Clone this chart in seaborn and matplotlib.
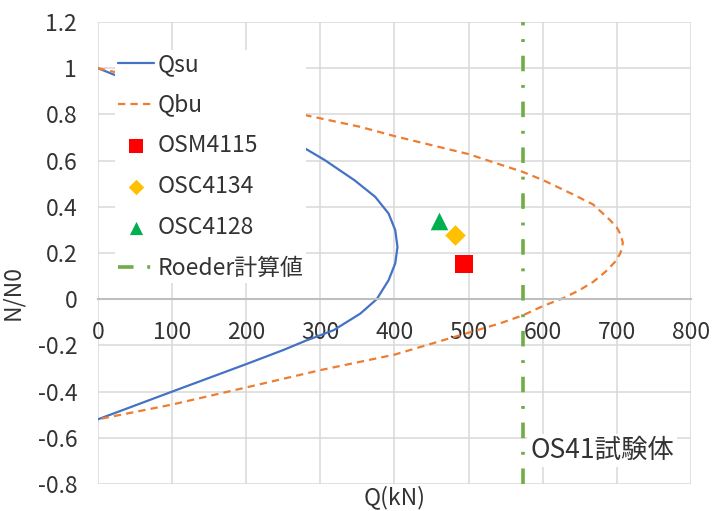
import matplotlib
matplotlib.use("Agg")
import matplotlib.pyplot as plt
import seaborn as sns

# Qsu curve (kN, N/N0), traced from top to bottom
q_su = [0, 20, 100, 200, 276, 306, 346, 374, 392, 401, 404, 401, 392, 376,
        354, 318, 300, 280, 250, 200, 100, 0]
n_su = [1.0, 0.974, 0.875, 0.755, 0.659, 0.602, 0.515, 0.443, 0.371, 0.299, 0.226,
        0.155, 0.082, 0.0, -0.062, -0.134, -0.156, -0.18, -0.22, -0.281, -0.40, -0.52]

# Qbu curve
q_bu = [0, 16, 100, 200, 275, 354, 400, 500, 573, 600, 640, 668, 690, 700, 705, 708,
        707, 704, 697, 685, 668, 650, 628, 600, 573, 542, 500, 400, 300, 200, 100, 0]
n_bu = [1.0, 0.988, 0.935, 0.865, 0.80, 0.746, 0.706, 0.628, 0.551, 0.516, 0.455, 0.41,
        0.345, 0.31, 0.28, 0.245, 0.22, 0.195, 0.16, 0.12, 0.075, 0.04, 0.005, -0.03,
        -0.07, -0.105, -0.145, -0.24, -0.307, -0.382, -0.456, -0.52]

# test specimens
specimens = ["OSM4115", "OSC4134", "OSC4128"]
spec_q = [494, 482, 460]
spec_n = [0.152, 0.277, 0.338]

roeder_q = 573

x_ticks = [0, 100, 200, 300, 400, 500, 600, 700, 800]
y_ticks = [-0.8, -0.6, -0.4, -0.2, 0, 0.2, 0.4, 0.6, 0.8, 1.0, 1.2]
y_labels = ["-0.8", "-0.6", "-0.4", "-0.2", "0", "0.2", "0.4", "0.6", "0.8", "1", "1.2"]

sns.set_style("white")
plt.rcParams['font.family'] = ['Noto Sans CJK JP', 'DejaVu Sans']
fs = 16.5

fig = plt.figure(figsize=(7.12, 5.11), dpi=100)
ax = fig.add_axes([98 / 712, 1 - 484 / 511, 593 / 712, 462 / 511])

sns.lineplot(x=q_su, y=n_su, sort=False, estimator=None, color="#4472C4",
             linewidth=1.6, label="Qsu", ax=ax)
sns.lineplot(x=q_bu, y=n_bu, sort=False, estimator=None, color="#ED7D31",
             linewidth=1.6, dashes=False, label="Qbu", ax=ax)
ax.lines[-1].set_linestyle((0, (3.3, 2.3)))

markers = ["s", "D", "^"]
colors = ["#FF0000", "#FFC000", "#00B050"]
sizes = [170, 110, 160]
for name, q, n, m, c, s in zip(specimens, spec_q, spec_n, markers, colors, sizes):
    sns.scatterplot(x=[q], y=[n], marker=m, color=c, s=s, linewidth=0,
                    label=name, ax=ax, zorder=4)

ax.axvline(roeder_q, color="#70AD47", linewidth=2.6,
           linestyle=(0, (4.3, 3.8, 0.8, 3.8)), label="Roeder計算値", zorder=3)

ax.set_xlim(0, 800)
ax.set_ylim(-0.8, 1.2)
ax.set_xticks(x_ticks)
ax.set_yticks(y_ticks)
ax.set_yticklabels(y_labels)
ax.grid(True, color="#D9D9D9", linewidth=1.1)
ax.set_axisbelow(True)
for side in ["top", "right", "left"]:
    ax.spines[side].set_visible(False)
ax.spines["bottom"].set_position(("data", 0))
ax.spines["bottom"].set_color("#BFBFBF")
ax.spines["bottom"].set_linewidth(1.5)
ax.tick_params(axis="both", length=0, labelsize=fs, labelcolor="#333333")
ax.tick_params(axis="y", pad=15)
ax.tick_params(axis="x", pad=16)

ax.set_xlabel("Q(kN)", fontsize=fs, color="#333333", va="top")
ax.xaxis.set_label_coords(0.5, -0.002)
ax.set_ylabel("N/N0", fontsize=fs, color="#333333")
ax.yaxis.set_label_coords(-0.125, 0.415)

ax.text(583, -0.655, "OS41試験体", fontsize=19, color="#333333", va="center",
        ha="left", bbox=dict(facecolor="white", edgecolor="none", pad=2), zorder=5)

leg = ax.legend(loc="upper left", bbox_to_anchor=(115 / 712, 1 - 50 / 511),
                bbox_transform=fig.transFigure, fontsize=fs, frameon=True,
                fancybox=False, handlelength=1.57, handletextpad=0.18,
                labelspacing=0.78, borderpad=0.12, borderaxespad=0, markerscale=0.75)
leg.get_frame().set_facecolor("white")
leg.get_frame().set_edgecolor("none")
leg.get_frame().set_alpha(1)
for t in leg.get_texts():
    t.set_color("#333333")

fig.savefig("out.png", dpi=100)
